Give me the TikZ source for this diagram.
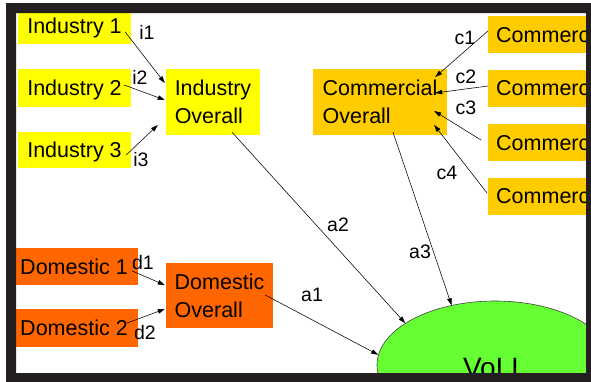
\documentclass[tikz,border=0pt]{standalone}
\usepackage{fontspec}
\setmainfont{Liberation Sans}
\usetikzlibrary{arrows.meta,shapes.geometric,calc}
\definecolor{indcol}{RGB}{255,255,0}
\definecolor{comcol}{RGB}{255,204,0}
\definecolor{domcol}{RGB}{255,102,0}
\definecolor{vollcol}{RGB}{102,255,51}
\definecolor{framecol}{RGB}{35,31,32}
\begin{document}
\begin{tikzpicture}[x=1pt,y=-1pt,
  box/.style={rectangle, inner sep=0pt, font=\fontsize{21.5}{28}\selectfont},
  onebox/.style={box, text depth=0pt},
  twoline/.style={box, align=left},
  combox/.style={box, text depth=0pt, fill=comcol, anchor=west, text width=108pt, align=left, inner xsep=8pt, minimum height=37pt},
  lab/.style={inner sep=0pt, font=\fontsize{19.5}{22}\selectfont},
  conn/.style={draw=black, line width=0.55pt, -{Triangle[length=7pt,width=4.5pt]}}
]
\useasboundingbox (0,0) rectangle (591,381);
\begin{scope}
\clip (16,13) rectangle (586,373);
% industry
\node[onebox, fill=indcol, minimum width=113pt, minimum height=37pt] (ind1) at (74.5,25.5) {Industry 1};
\node[onebox, fill=indcol, minimum width=113pt, minimum height=38pt] (ind2) at (74.5,88) {Industry 2};
\node[onebox, fill=indcol, minimum width=113pt, minimum height=36pt] (ind3) at (74.5,150) {Industry 3};
\node[twoline, fill=indcol, minimum width=94pt, minimum height=66pt] (indo) at (213,102) {Industry\\Overall};
% commercial
\node[twoline, fill=comcol, minimum width=134pt, minimum height=66pt] (como) at (380,102) {Commercial\\Overall};
\node[combox] (com1) at (488,34.5) {Commerc};
\node[combox] (com2) at (488,88) {Commerc};
\node[combox] (com3) at (488,142.5) {Commerc};
\node[combox] (com4) at (488,196) {Commerc};
% domestic
\node[onebox, fill=domcol, minimum width=128pt, minimum height=37pt] (dom1) at (74,266.5) {Domestic 1};
\node[onebox, fill=domcol, minimum width=128pt, minimum height=38pt] (dom2) at (74,328) {Domestic 2};
\node[twoline, fill=domcol, minimum width=107pt, minimum height=65pt] (domo) at (219.5,295.5) {Domestic\\Overall};
% VoLL
\node[ellipse, draw=black!75, line width=0.6pt, fill=vollcol, minimum width=236pt, minimum height=128pt, inner sep=0pt, font=\fontsize{28}{32}\selectfont] (voll) at (495,365) {\raisebox{-12pt}[0pt][0pt]{VoLL}};
% connectors
\draw[conn] ($(ind1.east)+(-6,6.5)$) -- ($(indo.west)+(-1,-19)$);
\draw[conn] ($(ind2.east)+(-7,-3)$) -- ($(indo.west)+(-1,-2)$);
\draw[conn] ($(ind3.east)+(-5,5)$) -- ($(indo.west)+(-8,23)$);
\draw[conn] ($(com1.west)+(0,-3.5)$) -- ($(como.east)+(-12,-25)$);
\draw[conn] ($(com2.west)+(0,-2)$) -- ($(como.east)+(-12,-9)$);
\draw[conn] ($(com3.west)+(-7,-2.5)$) -- ($(como.east)+(-13,9)$);
\draw[conn] ($(com4.west)+(-1,-3)$) -- ($(como.east)+(-13,23)$);
\draw[conn] ($(dom1.east)+(-6,4.5)$) -- ($(domo.west)+(-1,-10.5)$);
\draw[conn] ($(dom2.east)+(-11,-5)$) -- ($(domo.west)+(-1,13.5)$);
\draw[conn] ($(domo.east)+(-8,-0.5)$) -- (voll.175);
\draw[conn] ($(indo.south)+(19,-3)$) -- (voll.155);
\draw[conn] ($(como.south)+(13,-3)$) -- (voll.126);
% labels
\node[lab] (li1) at (147,32) {i1};
\node[lab] (li2) at (140,77) {i2};
\node[lab] (li3) at (141,160) {i3};
\node[lab] (lc1) at (465,38) {c1};
\node[lab] (lc2) at (466,77) {c2};
\node[lab] (lc3) at (466,108) {c3};
\node[lab] (lc4) at (447,173) {c4};
\node[lab] (ld1) at (143,263) {d1};
\node[lab] (ld2) at (145,333) {d2};
\node[lab] (la1) at (312,295) {a1};
\node[lab] (la2) at (338,225) {a2};
\node[lab] (la3) at (420,252) {a3};
\end{scope}
% frame
\fill[framecol, even odd rule] (6,3) rectangle (600,390) (16,13) rectangle (586,373);
\end{tikzpicture}
\end{document}
